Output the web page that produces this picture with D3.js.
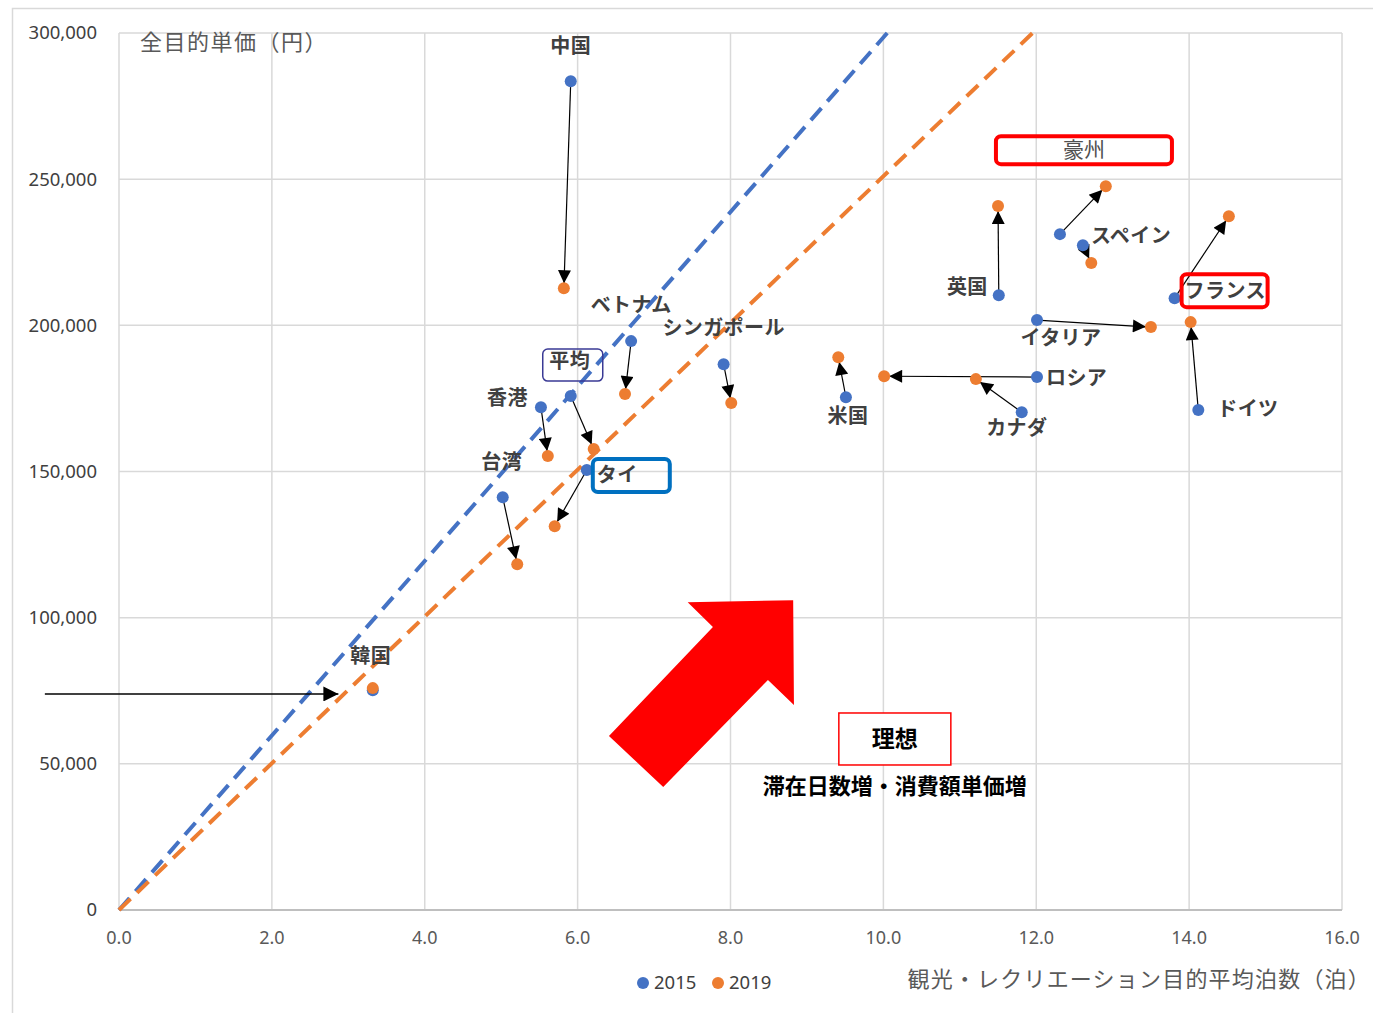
<!DOCTYPE html>
<html>
<head>
<meta charset="utf-8">
<script src="https://cdn.jsdelivr.net/npm/d3@7"></script>
<style>
  html, body { margin: 0; padding: 0; background: #fff; }
  svg { display: block; }
</style>
</head>
<body>
<svg id="chart" width="1373" height="1013"></svg>
<script>
// Average nights (x) and spend per visitor in yen (y), 2015 vs 2019
const countries  = ["中国","ベトナム","シンガポール","平均","香港","タイ","台湾","韓国","米国","カナダ","ロシア","イタリア","英国","豪州","スペイン","フランス","ドイツ"];
const nights2015 = [5.91, 6.70, 7.91, 5.91, 5.52, 6.12, 5.02, 3.32, 9.51, 11.81, 12.01, 12.01, 11.51, 12.31, 12.61, 13.81, 14.12];
const price2015  = [283500, 194600, 186700, 175800, 172000, 150500, 141200, 75200, 175400, 170300, 182300, 201800, 210300, 231200, 227400, 209300, 171000];
const nights2019 = [5.82, 6.62, 8.01, 6.21, 5.61, 5.70, 5.21, 3.32, 9.41, 11.21, 10.01, 13.50, 11.50, 12.91, 12.72, 14.52, 14.02];
const price2019  = [212700, 176500, 173400, 157700, 155300, 131300, 118300, 75900, 189100, 181600, 182600, 199400, 240800, 247600, 221300, 237300, 201100];

// Average yen per night (slope of the reference lines through the origin)
const years = ["2015", "2019"];
const yenPerNight = [29850, 25100];

// Axis ticks
const xTicks = [0, 2, 4, 6, 8, 10, 12, 14, 16];
const yTicks = [0, 50000, 100000, 150000, 200000, 250000, 300000];

// Label placement relative to the 2015 point: [dx, dy, anchor]
const labelPlace = [
  [0,-35,"middle"], [0,-36,"middle"], [0,-36,"middle"], [-1,-35,"middle"],
  [-13,-9,"end"], [10,5,"start"], [-1,-35,"middle"], [-2,-34,"middle"],
  [2,19,"middle"], [-5,16,"middle"], [9,1,"start"], [24,18,"middle"],
  [-11,-8,"end"], [24,-84,"middle"], [8,-9,"start"], [10,-7,"start"], [19,-1,"start"]
];

// Highlight frames around some labels: [label, x0, y0, w, h, colour, width]
const highlightBoxes = [
  ["平均", -27, -12, 60, 32, "#3a3a95", 1.5],
  ["タイ", -4, -16, 77, 33, "#0070c0", 4],
  ["豪州", -88, -14, 176, 28, "#ff0000", 4],
  ["フランス", -3, -17, 86, 33, "#ff0000", 4]
];

// Big "ideal direction" arrow outline, in data units [nights, yen]
const idealArrow = [[8.82,106000],[7.44,105300],[7.77,96800],[6.41,59500],[7.12,42100],[8.49,78700],[8.83,70100]];
// Pointer arrow at Korea
const koreaPointer = [[-0.97, 73900], [2.87, 73900]];

const blue = "#4472c4", orange = "#ed7d31";
const svg = d3.select("#chart");

const x = d3.scaleLinear().domain([0, 16]).range([119, 1342]);
const y = d3.scaleLinear().domain([0, 300000]).range([910, 33]);

// Outer frame
svg.append("rect").attr("x", 12.5).attr("y", 8.5).attr("width", 1400).attr("height", 1100)
  .attr("fill", "none").attr("stroke", "#d9d9d9").attr("stroke-width", 1.5);

const defs = svg.append("defs");
defs.append("marker").attr("id", "tri").attr("viewBox", "0 0 10 10")
  .attr("refX", 10).attr("refY", 5).attr("markerUnits", "userSpaceOnUse")
  .attr("markerWidth", 15).attr("markerHeight", 13).attr("orient", "auto")
  .append("path").attr("d", "M0,0 L10,5 L0,10 Z").attr("fill", "#000");
defs.append("marker").attr("id", "tri2").attr("viewBox", "0 0 10 10")
  .attr("refX", 10).attr("refY", 5).attr("markerUnits", "userSpaceOnUse")
  .attr("markerWidth", 18).attr("markerHeight", 15).attr("orient", "auto")
  .append("path").attr("d", "M0,0 L10,5 L0,10 Z").attr("fill", "#000");

// Gridlines
const grid = svg.append("g");
grid.selectAll(".gx").data(xTicks).join("line")
  .attr("x1", d => x(d)).attr("x2", d => x(d)).attr("y1", y(300000)).attr("y2", y(0))
  .attr("stroke", "#d9d9d9").attr("stroke-width", 1.5);
grid.selectAll(".gy").data(yTicks.filter(d => d > 0)).join("line")
  .attr("x1", x(0)).attr("x2", x(16)).attr("y1", d => y(d)).attr("y2", d => y(d))
  .attr("stroke", "#d9d9d9").attr("stroke-width", 1.5);
grid.append("line").attr("x1", x(0)).attr("x2", x(16)).attr("y1", y(0)).attr("y2", y(0))
  .attr("stroke", "#bfbfbf").attr("stroke-width", 2);

// Tick labels
const tickFont = "'Noto Sans', 'Liberation Sans', sans-serif";
svg.append("g").selectAll("text").data(yTicks).join("text")
  .attr("x", 97).attr("y", d => y(d)).attr("dy", "0.35em").attr("text-anchor", "end")
  .attr("font-family", tickFont).attr("font-size", 18.5).attr("fill", "#404040")
  .text(d => d3.format(",")(d));
svg.append("g").selectAll("text").data(xTicks).join("text")
  .attr("x", d => x(d)).attr("y", 938).attr("dy", "0.35em").attr("text-anchor", "middle")
  .attr("font-family", tickFont).attr("font-size", 18).attr("fill", "#595959")
  .text(d => d3.format(".1f")(d));

// Average reference lines through the origin
const lineG = svg.append("g");
yenPerNight.forEach((k, i) => {
  const xEnd = Math.min(16, 300000 / k);
  lineG.append("line")
    .attr("x1", x(0)).attr("y1", y(0)).attr("x2", x(xEnd)).attr("y2", y(k * xEnd))
    .attr("stroke", i === 0 ? blue : orange).attr("stroke-width", 4)
    .attr("stroke-dasharray", "16,9");
});

// Change arrows 2015 -> 2019
const arrowG = svg.append("g");
countries.forEach((c, i) => {
  const x1 = x(nights2015[i]), y1 = y(price2015[i]);
  const x2 = x(nights2019[i]), y2 = y(price2019[i]);
  const len = Math.hypot(x2 - x1, y2 - y1);
  if (len < 8) return;
  const s = (len - 5) / len;
  arrowG.append("line")
    .attr("x1", x1).attr("y1", y1)
    .attr("x2", x1 + (x2 - x1) * s).attr("y2", y1 + (y2 - y1) * s)
    .attr("stroke", "#000").attr("stroke-width", 1.2)
    .attr("marker-end", "url(#tri)");
});

// Points
const dotG = svg.append("g");
dotG.selectAll(".b").data(countries).join("circle")
  .attr("cx", (d, i) => x(nights2015[i])).attr("cy", (d, i) => y(price2015[i]))
  .attr("r", 6).attr("fill", blue);
dotG.selectAll(".o").data(countries).join("circle")
  .attr("cx", (d, i) => x(nights2019[i])).attr("cy", (d, i) => y(price2019[i]))
  .attr("r", 6).attr("fill", orange);

// Country labels
const jp = "'Noto Sans CJK JP', 'Noto Sans', sans-serif";
const labelG = svg.append("g");
const anchorPos = {};
countries.forEach((c, i) => {
  const [dx, dy, anchor] = labelPlace[i];
  const lx = x(nights2015[i]) + dx, ly = y(price2015[i]) + dy;
  anchorPos[c] = [lx, ly];
  const isAus = c === "豪州";
  labelG.append("text").attr("x", lx).attr("y", ly).attr("dy", "0.35em")
    .attr("text-anchor", anchor).attr("font-family", jp).attr("font-size", isAus ? 21 : 20)
    .attr("letter-spacing", isAus ? 0 : 0.4)
    .attr("font-weight", isAus ? 400 : 700)
    .attr("fill", isAus ? "#505050" : "#404040").text(c);
});

// Highlight frames
highlightBoxes.forEach(([label, bx, by, w, h, col, sw]) => {
  const [lx, ly] = anchorPos[label];
  labelG.append("rect").attr("x", lx + bx).attr("y", ly + by).attr("width", w).attr("height", h)
    .attr("rx", 5).attr("fill", "none").attr("stroke", col).attr("stroke-width", sw);
});

// Pointer at Korea
svg.append("line")
  .attr("x1", x(koreaPointer[0][0])).attr("y1", y(koreaPointer[0][1]))
  .attr("x2", x(koreaPointer[1][0])).attr("y2", y(koreaPointer[1][1]))
  .attr("stroke", "#000").attr("stroke-width", 1.5).attr("marker-end", "url(#tri2)");

// Ideal direction arrow
svg.append("path")
  .attr("d", d3.line().x(d => x(d[0])).y(d => y(d[1]))(idealArrow) + "Z")
  .attr("fill", "#ff0000");

// Ideal label
const idealX = 10.15;
const bw = 112, bh = 52;
svg.append("rect").attr("x", x(idealX) - bw / 2).attr("y", y(58500) - bh / 2)
  .attr("width", bw).attr("height", bh).attr("fill", "#fff")
  .attr("stroke", "#ff0000").attr("stroke-width", 1.5);
svg.append("text").attr("x", x(idealX)).attr("y", y(58500)).attr("dy", "0.35em")
  .attr("text-anchor", "middle").attr("font-family", jp).attr("font-weight", 700)
  .attr("font-size", 23).attr("fill", "#000").text("理想");
svg.append("text").attr("x", x(idealX)).attr("y", y(42300)).attr("dy", "0.35em")
  .attr("text-anchor", "middle").attr("font-family", jp).attr("font-weight", 700)
  .attr("font-size", 22).attr("fill", "#000").text("滞在日数増・消費額単価増");

// Axis titles
svg.append("text").attr("x", 140).attr("y", 42).attr("dy", "0.35em")
  .attr("font-family", jp).attr("font-size", 22).attr("letter-spacing", 1.5)
  .attr("fill", "#595959").text("全目的単価（円）");
svg.append("text").attr("x", 1371).attr("y", 979).attr("dy", "0.35em").attr("text-anchor", "end")
  .attr("font-family", jp).attr("font-size", 22).attr("letter-spacing", 1.2).attr("fill", "#595959")
  .text("観光・レクリエーション目的平均泊数（泊）");

// Legend
const legend = svg.append("g");
[[643, blue, years[0]], [718, orange, years[1]]].forEach(([lx, col, t]) => {
  legend.append("circle").attr("cx", lx).attr("cy", 983).attr("r", 6).attr("fill", col);
  legend.append("text").attr("x", lx + 11).attr("y", 983).attr("dy", "0.35em")
    .attr("font-family", tickFont).attr("font-size", 18.5).attr("fill", "#404040").text(t);
});
</script>
</body>
</html>
